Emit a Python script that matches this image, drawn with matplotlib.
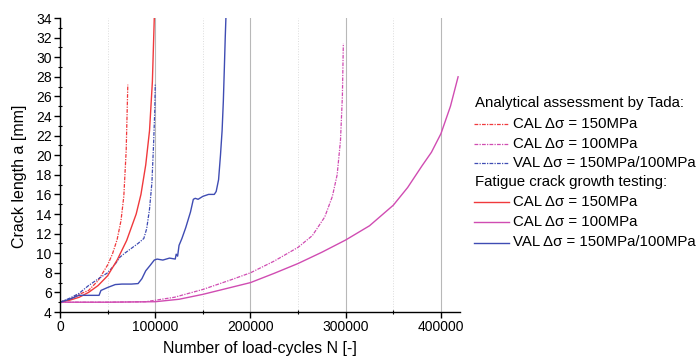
import matplotlib
matplotlib.use("Agg")
import matplotlib.pyplot as plt
from matplotlib.lines import Line2D
from matplotlib.ticker import MultipleLocator

plt.rcParams['font.family'] = ['Liberation Sans', 'DejaVu Sans']

# значения сняты с картинки на глаз
# расчёт по Tada
tada_cal150_n = [0, 10000, 20000, 30000, 40000, 50000, 55000, 60000, 64000, 67000, 69500, 71200]
tada_cal150_a = [5.0, 5.3, 5.8, 6.2, 7.2, 8.8, 9.9, 11.4, 13.3, 15.8, 20.5, 27.2]

tada_cal100_n = [0, 50000, 90000, 120000, 150000, 180000, 200000, 225000, 250000, 265000,
                 278000, 286000, 291000, 294500, 296500, 297500]
tada_cal100_a = [5.0, 5.0, 5.05, 5.5, 6.3, 7.3, 8.0, 9.2, 10.6, 11.8,
                 13.7, 15.8, 18.0, 21.5, 26.0, 31.4]

tada_val_n = [0, 10000, 20000, 30000, 42000, 50000, 58000, 63000, 68000, 75000, 82000, 88000,
              91000, 94000, 96500, 98200, 99500, 100000]
tada_val_a = [5.0, 5.4, 5.9, 6.7, 7.5, 8.0, 8.9, 9.6, 10.0, 10.5, 11.0, 11.5,
              12.5, 14.5, 17.2, 21.0, 24.5, 27.2]

# испытания
test_cal150_n = [0, 10000, 20000, 30000, 40000, 50000, 60000, 70000, 80000, 85000, 90000,
                 94000, 97000, 99000]
test_cal150_a = [5.0, 5.2, 5.5, 6.0, 6.7, 7.7, 9.3, 11.3, 14.0, 16.0, 19.0,
                 22.5, 27.5, 34.0]

test_cal100_n = [0, 50000, 100000, 125000, 150000, 175000, 200000, 225000, 250000, 275000,
                 300000, 325000, 350000, 365000, 380000, 390000, 400000, 410000, 418000]
test_cal100_a = [5.0, 5.0, 5.05, 5.3, 5.8, 6.4, 7.0, 7.95, 8.95, 10.1,
                 11.35, 12.8, 14.9, 16.7, 18.9, 20.3, 22.2, 25.0, 28.0]

test_val_n = [0, 10000, 20000, 25000, 35000, 41000, 43000, 50000, 58000, 65000, 75000, 82000,
              86000, 90000, 95000, 99000, 102000, 108000, 115000, 121000, 122000, 123500,
              125000, 128000, 132000, 137000, 140000, 142000, 145000, 150000, 156000, 162000,
              164000, 166500, 168500, 170200, 171500, 172600, 173500, 174200]
test_val_a = [5.0, 5.3, 5.7, 5.7, 5.7, 5.7, 6.2, 6.5, 6.8, 6.85, 6.85, 6.9,
              7.4, 8.2, 8.8, 9.3, 9.4, 9.3, 9.5, 9.4, 9.9, 9.7,
              10.8, 11.5, 12.6, 14.2, 15.5, 15.6, 15.5, 15.8, 16.0, 16.0,
              16.3, 17.5, 20.0, 22.5, 25.5, 29.0, 32.0, 34.0]

header_tada = 'Analytical assessment by Tada:'
header_test = 'Fatigue crack growth testing:'
labels = ['CAL \u0394\u03c3 = 150MPa', 'CAL \u0394\u03c3 = 100MPa', 'VAL \u0394\u03c3 = 150MPa/100MPa']

RED = '#f0393c'
MAG = '#d04cb2'
BLUE = '#3f4cb3'
DASH = (0, (3, 1, 1, 1))

fig = plt.figure(figsize=(6.96, 3.6), dpi=100)
ax = fig.add_axes([60 / 696, 1 - 312 / 360, 400 / 696, 294 / 360])

ax.plot(tada_cal150_n, tada_cal150_a, color=RED, lw=0.9, ls=DASH)
ax.plot(tada_cal100_n, tada_cal100_a, color=MAG, lw=0.9, ls=DASH)
ax.plot(tada_val_n, tada_val_a, color=BLUE, lw=0.9, ls=DASH)
ax.plot(test_cal150_n, test_cal150_a, color=RED, lw=1.0)
ax.plot(test_cal100_n, test_cal100_a, color=MAG, lw=1.0)
ax.plot(test_val_n, test_val_a, color=BLUE, lw=1.0)

ax.set_xlim(0, 420000)
ax.set_ylim(4, 34)
ax.xaxis.set_major_locator(MultipleLocator(100000))
ax.xaxis.set_minor_locator(MultipleLocator(50000))
ax.yaxis.set_major_locator(MultipleLocator(2))
ax.yaxis.set_minor_locator(MultipleLocator(1))
ax.grid(True, which='major', axis='x', color='#b8b8b8', lw=0.8)
ax.grid(True, which='minor', axis='x', color='#dcdcdc', lw=0.7, ls=':')
ax.set_axisbelow(True)

for s in ['top', 'right']:
    ax.spines[s].set_visible(False)
for s in ['left', 'bottom']:
    ax.spines[s].set_linewidth(1.0)

ax.tick_params(which='major', direction='out', length=4, width=1, labelsize=10, pad=2)
ax.tick_params(which='minor', direction='inout', length=3, width=0.8)

ax.set_xlabel('Number of load-cycles N [-]', fontsize=11.5)
ax.set_ylabel('Crack length a [mm]', fontsize=11.5)
ax.xaxis.set_label_coords(0.5, -0.1)
ax.yaxis.set_label_coords(-0.083, 0.463)

# легенда вручную, с заголовками групп
rows_y = [103, 124, 143.5, 163.5, 182, 202, 222, 242.5]
styles = [(RED, DASH, 0.9), (MAG, DASH, 0.9), (BLUE, DASH, 0.9),
          (RED, '-', 1.0), (MAG, '-', 1.0), (BLUE, '-', 1.0)]
fig.text(475 / 696, 1 - rows_y[0] / 360, header_tada, fontsize=10.8, va='center', ha='left')
fig.text(475 / 696, 1 - rows_y[4] / 360, header_test, fontsize=10.8, va='center', ha='left')
row_idx = [1, 2, 3, 5, 6, 7]
for i, r in enumerate(row_idx):
    yy = 1 - rows_y[r] / 360
    c, ls, lw = styles[i]
    fig.add_artist(Line2D([474 / 696, 509 / 696], [yy, yy], color=c, ls=ls, lw=lw))
    fig.text(513 / 696, yy, labels[i % 3], fontsize=10.8, va='center', ha='left')

fig.savefig('out.png', dpi=100)
